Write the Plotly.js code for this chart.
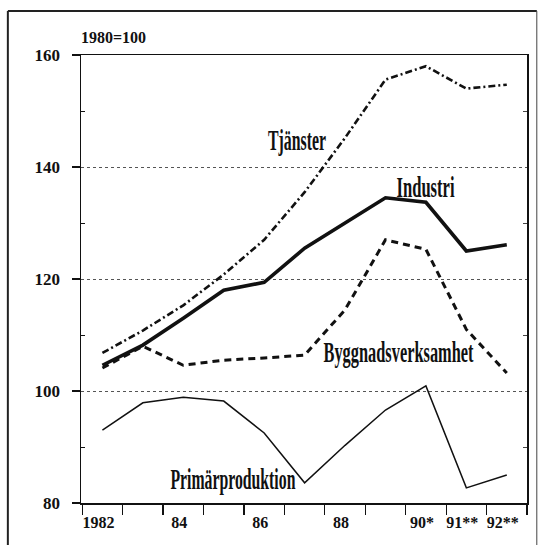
<!DOCTYPE html>
<html>
<head>
<meta charset="utf-8">
<script src="https://cdn.plot.ly/plotly-3.0.1.min.js"></script>
<style>
  html, body { margin: 0; padding: 0; background: #fff; }
  #chart { width: 543px; height: 545px; }
</style>
</head>
<body>
<div id="chart"></div>
<script>
// ---- data (index, 1980 = 100) ----
const years = [1982, 1983, 1984, 1985, 1986, 1987, 1988, 1989, 1990, 1991, 1992];
const tjanster = [106.8, 110.8, 115.3, 120.8, 127.0, 135.5, 145.2, 155.6, 158.0, 154.0, 154.7];
const industri = [104.6, 108.2, 113.0, 118.0, 119.4, 125.5, 130.0, 134.5, 133.7, 125.0, 126.1];
const byggnad = [104.1, 108.0, 104.6, 105.5, 105.9, 106.4, 114.5, 127.0, 125.3, 111.0, 103.2];
const primar = [93.0, 97.9, 98.9, 98.2, 92.5, 83.6, 90.3, 96.6, 100.9, 82.7, 85.0];

const seriesNames = ['Tjänster', 'Industri', 'Byggnadsverksamhet', 'Primärproduktion'];
const xTickVals = [1982, 1984, 1986, 1988, 1990, 1991, 1992];
const xTickText = ['1982', '84', '86', '88', '90*', '91**', '92**'];
const xBoundaries = [1981.5, 1982.5, 1983.5, 1984.5, 1985.5, 1986.5, 1987.5, 1988.5, 1989.5, 1990.5, 1991.5, 1992.5];
const yTickVals = [80, 100, 120, 140, 160];
const yMinorVals = [90, 110, 130, 150];
const baseLabel = '1980=100';

const ink = '#111';
const serif = 'Liberation Serif, Times New Roman, serif';

const traces = [
  { x: years, y: tjanster, name: seriesNames[0], mode: 'lines',
    line: { color: ink, width: 2.6, dash: '7px,3px,2px,3px' } },
  { x: years, y: industri, name: seriesNames[1], mode: 'lines',
    line: { color: ink, width: 3.6 } },
  { x: years, y: byggnad, name: seriesNames[2], mode: 'lines',
    line: { color: ink, width: 3, dash: '7px,5px' } },
  { x: years, y: primar, name: seriesNames[3], mode: 'lines',
    line: { color: ink, width: 1.5 } },
  // invisible companion so the right-hand (mirror) axis with its inner ticks is drawn
  { x: years, y: primar, yaxis: 'y2', mode: 'lines', opacity: 0, hoverinfo: 'skip',
    line: { width: 0 }, showlegend: false }
];

// label placement (data coords) and squeezed width (px) for the condensed face
const labelPos = [
  { x: 1986.81, y: 145.0, w: 58 },
  { x: 1990.0, y: 136.6, w: 58 },
  { x: 1989.31, y: 107.0, w: 150 },
  { x: 1985.22, y: 84.4, w: 125 }
];

const annotations = seriesNames.map((n, i) => ({
  x: labelPos[i].x, y: labelPos[i].y, xref: 'x', yref: 'y',
  text: n, showarrow: false, xanchor: 'center', yanchor: 'middle',
  font: { family: serif, size: 30, color: ink, weight: 'bold' }
}));
annotations.push({
  x: -0.005, y: 1.039, xref: 'paper', yref: 'paper', xanchor: 'left', yanchor: 'middle',
  text: baseLabel, showarrow: false,
  font: { family: serif, size: 16, color: ink, weight: 'bold' }
});

const frameLine = { type: 'line', xref: 'paper', yref: 'paper', line: { color: '#222', width: 2 } };
const shapes = [
  Object.assign({}, frameLine, { x0: -0.164, x1: -0.164, y0: -0.1, y1: 1.098 }),
  Object.assign({}, frameLine, { x0: -0.164, x1: 1.022, y0: 1.098, y1: 1.098 }),
  Object.assign({}, frameLine, { x0: 1.022, x1: 1.022, y0: -0.1, y1: 1.098, line: { color: '#444', width: 1 } })
];

const layout = {
  width: 543, height: 545,
  margin: { l: 81, r: 16, t: 55, b: 42 },
  paper_bgcolor: '#fff', plot_bgcolor: '#fff',
  showlegend: false,
  xaxis: {
    range: [1981.47, 1992.5],
    tickmode: 'array', tickvals: xTickVals, ticktext: xTickText,
    ticks: '', showgrid: false, zeroline: false,
    showline: true, linecolor: ink, linewidth: 1.5, mirror: true,
    tickfont: { family: serif, size: 16, color: ink, weight: 'bold' },
    ticklabelstandoff: 4, ticklabelshift: -4,
    minor: { tickmode: 'array', tickvals: xBoundaries, ticks: 'outside', ticklen: 10, tickwidth: 1.2, tickcolor: ink, showgrid: false }
  },
  yaxis: {
    range: [80, 160],
    tickmode: 'array', tickvals: yTickVals,
    ticks: 'outside', ticklen: 8, tickwidth: 1.2, tickcolor: ink,
    showgrid: true, gridcolor: '#555', griddash: 'dot', gridwidth: 1,
    zeroline: false,
    showline: true, linecolor: ink, linewidth: 1.5, mirror: true,
    tickfont: { family: serif, size: 17, color: ink, weight: 'bold' },
    ticklabelstandoff: 8,
    minor: { tickmode: 'array', tickvals: yMinorVals, ticks: 'inside', ticklen: 4, tickwidth: 1, tickcolor: ink, showgrid: false }
  },
  yaxis2: {
    range: [80, 160], overlaying: 'y', side: 'right',
    showticklabels: false, ticks: '', showgrid: false, zeroline: false, showline: false,
    minor: { tickmode: 'array', tickvals: yMinorVals, ticks: 'inside', ticklen: 4, tickwidth: 1, tickcolor: '#444', showgrid: false }
  },
  annotations: annotations,
  shapes: shapes
};

Plotly.newPlot('chart', traces, layout, { displayModeBar: false, staticPlot: true }).then(() => {
  const widths = {};
  seriesNames.forEach((n, i) => { widths[n] = labelPos[i].w; });
  document.querySelectorAll('.annotation-text').forEach(t => {
    const w = widths[t.textContent];
    if (w) {
      t.setAttribute('textLength', w);
      t.setAttribute('lengthAdjust', 'spacingAndGlyphs');
    }
  });
});
</script>
</body>
</html>
